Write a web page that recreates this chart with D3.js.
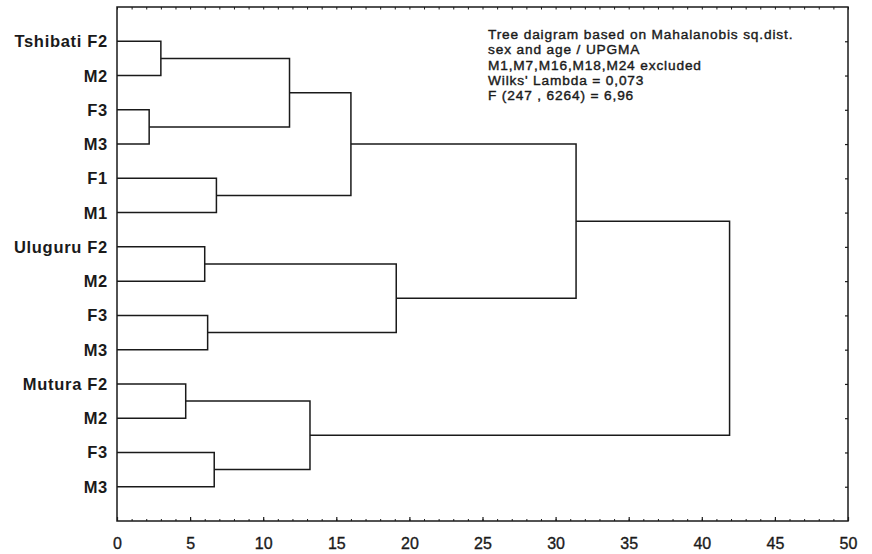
<!DOCTYPE html>
<html><head><meta charset="utf-8">
<script src="https://cdnjs.cloudflare.com/ajax/libs/d3/7.8.5/d3.min.js"></script>
<style>
html,body{margin:0;padding:0;background:#fff;}
svg{display:block;}
</style></head>
<body>
<svg id="chart" width="872" height="554"></svg>
<script>
// ---- data ----
const leafLabels = ["Tshibati F2","M2","F3","M3","F1","M1","Uluguru F2","M2","F3","M3","Mutura F2","M2","F3","M3"];
// UPGMA linkage: cluster ids 14.. are created in order
const mergeLeft   = [0, 2, 4, 14, 17, 6, 8, 19, 10, 12, 22, 18, 25];
const mergeRight  = [1, 3, 5, 15, 16, 7, 9, 20, 11, 13, 23, 21, 24];
const mergeHeight = [3.0, 2.2, 6.8, 11.8, 16.0, 6.0, 6.2, 19.1, 4.7, 6.65, 13.2, 31.4, 41.9];
const xTicks = [0,5,10,15,20,25,30,35,40,45,50];
const noteLines = ["Tree daigram based on Mahalanobis sq.dist.","sex and age / UPGMA","M1,M7,M16,M18,M24 excluded","Wilks' Lambda = 0,073","F (247 , 6264) = 6,96"];

// ---- layout ----
const L = 117, R = 848, T = 7, B = 521;
const svg = d3.select("#chart");
const x = d3.scaleLinear().domain([0,50]).range([L,R]);
const y = d3.scaleLinear().domain([0, leafLabels.length + 1]).range([T,B]);
const ink = "#1a1a1a";
const font = "'Liberation Sans', Arial, sans-serif";

// node positions
const nodes = leafLabels.map((l,i)=>({h:0, pos:i+1}));
mergeHeight.forEach((h,i)=>{
  const a = nodes[mergeLeft[i]], b = nodes[mergeRight[i]];
  nodes.push({h:h, pos:(a.pos+b.pos)/2, a:a, b:b});
});

const g = svg.append("g");
const lines = g.append("g").attr("fill","none").attr("stroke",ink).attr("stroke-width",1.5);
nodes.filter(n=>n.a).forEach(n=>{
  const p = d3.path();
  p.moveTo(x(n.a.h), y(n.a.pos));
  p.lineTo(x(n.h), y(n.a.pos));
  p.lineTo(x(n.h), y(n.b.pos));
  p.lineTo(x(n.b.h), y(n.b.pos));
  lines.append("path").attr("d", p.toString());
});

// frame
g.append("rect").attr("x",L).attr("y",T).attr("width",R-L).attr("height",B-T)
  .attr("fill","none").attr("stroke",ink).attr("stroke-width",1.5);

// bottom axis: major ticks with labels
const axB = g.append("g").attr("transform",`translate(0,${B})`)
  .call(d3.axisBottom(x).tickValues(xTicks).tickSize(-4).tickPadding(17).tickFormat(d3.format("d")));
axB.select(".domain").remove();
axB.selectAll("line").attr("stroke",ink).attr("stroke-width",1.2);
axB.selectAll("text").attr("font-family",font).attr("font-size","16px")
  .attr("fill",ink).attr("stroke",ink).attr("stroke-width",0.35);
// bottom minor ticks
const axBm = g.append("g").attr("transform",`translate(0,${B})`)
  .call(d3.axisBottom(x).tickValues(d3.range(0,51,1)).tickSize(-2).tickFormat(""));
axBm.select(".domain").remove();
axBm.selectAll("line").attr("stroke",ink);
// top minor ticks
const axT = g.append("g").attr("transform",`translate(0,${T})`)
  .call(d3.axisTop(x).tickValues(d3.range(0,51,1)).tickSize(-2.5).tickFormat(""));
axT.select(".domain").remove();
axT.selectAll("line").attr("stroke",ink);
// right ticks at leaf rows
const axR = g.append("g").attr("transform",`translate(${R},0)`)
  .call(d3.axisRight(y).tickValues(d3.range(1,leafLabels.length+1)).tickSize(-3).tickFormat(""));
axR.select(".domain").remove();
axR.selectAll("line").attr("stroke",ink).attr("stroke-width",1.2);

// leaf labels
g.append("g").selectAll("text").data(leafLabels).join("text")
  .attr("x",108).attr("y",(d,i)=>y(i+1)+6)
  .attr("text-anchor","end")
  .attr("font-family",font)
  .attr("font-weight","bold").attr("font-size","16.5px")
  .attr("letter-spacing","0.7px")
  .attr("fill",ink).text(d=>d);

// annotation
g.append("g").selectAll("text").data(noteLines).join("text")
  .attr("x",488).attr("y",(d,i)=>39+i*15.3)
  .attr("font-family",font)
  .attr("font-size","13.7px").attr("letter-spacing","0.85px").attr("fill",ink)
  .attr("stroke",ink).attr("stroke-width",0.4)
  .text(d=>d);
</script>
</body></html>
